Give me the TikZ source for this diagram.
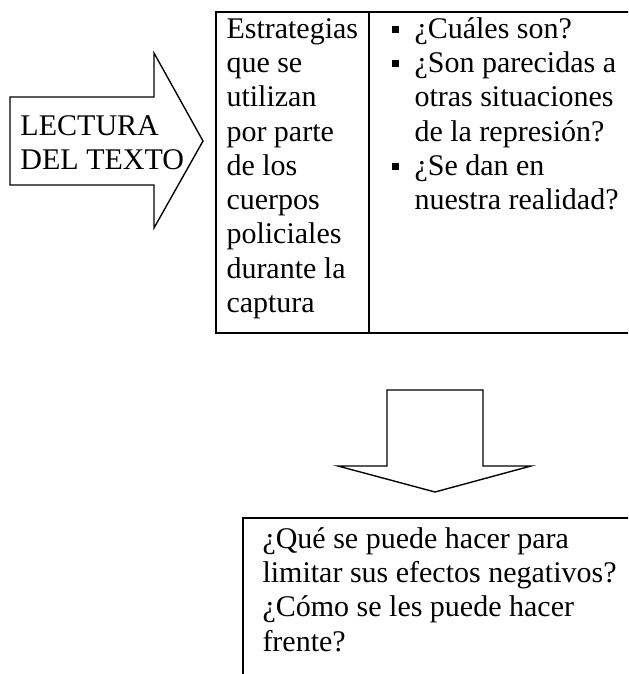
\documentclass[tikz,border=0pt]{standalone}
\usepackage{fontspec}
\setmainfont{Liberation Serif}
\begin{document}
\begin{tikzpicture}[x=0.4pt,y=-0.4pt,
  txt/.style={font=\fontsize{12}{13.7}\selectfont, inner sep=0pt, anchor=north west, align=left},
  shapeline/.style={draw=black, line width=0.55pt, line join=miter},
  boxline/.style={draw=black, line width=0.8pt},
  sqbullet/.style={fill=black, inner sep=0pt, minimum size=2.8pt, anchor=center}]
\useasboundingbox (0,0) rectangle (628,674);
\clip (0,0) rectangle (628,674);
% left arrow
\draw[shapeline] (10,97) -- (154,97) -- (154,53) -- (203,141) -- (154,228) -- (154,185) -- (10,185) -- cycle;
\node[txt] (lectura) at (20,111) {\strut LECTURA\\DEL TEXTO};
% table
\draw[boxline] (216,12) rectangle (640,333);
\draw[boxline] (369,12) -- (369,333);
\node[txt] (estr) at (226,14) {\strut Estrategias\\que se\\utilizan\\por parte\\de los\\cuerpos\\policiales\\durante la\\captura};
\node[txt] (preg) at (414,14) {\strut ¿Cuáles son?\\¿Son parecidas a\\otras situaciones\\de la represión?\\¿Se dan en\\nuestra realidad?};
\node[sqbullet] (b1) at (395,29) {};
\node[sqbullet] (b2) at (395,63.25) {};
\node[sqbullet] (b3) at (395,166) {};
% down arrow
\draw[shapeline] (387,390) -- (483,390) -- (483,466) -- (531,466) -- (435,492) -- (338,466) -- (387,466) -- cycle;
% bottom box
\draw[boxline] (243,518) rectangle (640,700);
\node[txt] (fin) at (262,524) {\strut ¿Qué se puede hacer para\\limitar sus efectos negativos?\\¿Cómo se les puede hacer\\frente?};
\end{tikzpicture}
\end{document}
